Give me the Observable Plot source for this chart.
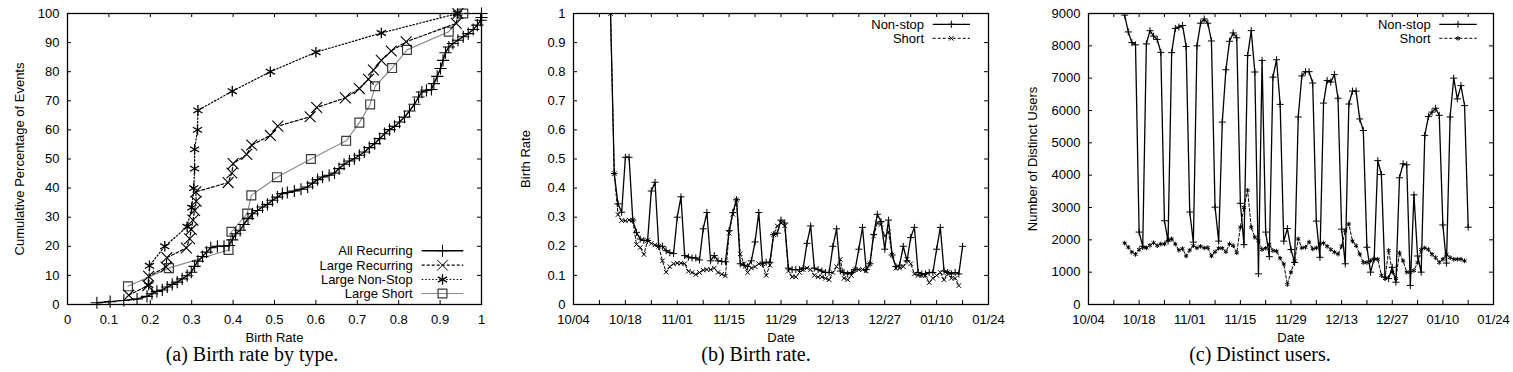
<!DOCTYPE html>
<html>
<head>
<meta charset="utf-8">
<script src="https://cdn.jsdelivr.net/npm/d3@7"></script>
<script src="https://cdn.jsdelivr.net/npm/@observablehq/plot@0.6"></script>
<style>
  html, body { margin: 0; padding: 0; background: #fff; }
  #wrap { position: relative; width: 1513px; height: 372px; overflow: hidden; background: #fff; }
  .panel { position: absolute; top: 0; }
  .caption { position: absolute; top: 345.5px; width: 504px; text-align: center;
    font-family: "Liberation Serif", "Times New Roman", serif; font-size: 20px; line-height: 16px; color: #000; }
  .legend { position: absolute; top: 0; left: 0; pointer-events: none; }
</style>
</head>
<body>
<div id="wrap"></div>
<script>
// ---------------- Panel (a): CDF of birth rate by type ----------------
const allRecurring = [
  [0.071,0.6],[0.103,1.0],[0.136,1.4],[0.168,1.9],[0.192,2.8],[0.204,3.7],[0.216,4.5],[0.229,5.0],
  [0.241,6.0],[0.253,6.9],[0.265,7.7],[0.277,8.8],[0.289,9.9],[0.299,11.1],[0.307,13.1],[0.315,14.9],
  [0.326,16.5],[0.336,18.0],[0.346,19.5],[0.362,20.0],[0.378,20.0],[0.39,20.3],[0.398,22.2],[0.406,24.3],
  [0.417,25.5],[0.426,27.5],[0.436,29.5],[0.447,31.2],[0.459,32.3],[0.471,33.5],[0.483,34.4],[0.495,35.8],
  [0.507,36.9],[0.519,38.1],[0.531,38.5],[0.548,39.0],[0.564,39.6],[0.58,40.4],[0.592,41.7],[0.604,42.9],
  [0.616,43.8],[0.632,44.4],[0.645,45.2],[0.656,46.7],[0.668,48.2],[0.681,49.3],[0.693,50.1],[0.705,51.3],
  [0.717,52.4],[0.729,53.9],[0.742,55.3],[0.754,57.0],[0.766,58.7],[0.778,60.1],[0.79,61.2],[0.802,62.7],
  [0.814,64.4],[0.826,66.5],[0.838,68.8],[0.848,71.3],[0.856,73.0],[0.867,73.6],[0.879,73.9],[0.885,75.9],
  [0.893,78.4],[0.901,81.1],[0.907,83.9],[0.913,86.5],[0.921,88.5],[0.931,89.7],[0.943,90.8],[0.956,92.0],
  [0.968,93.1],[0.98,94.5],[0.99,96.0],[0.998,97.7],[1.0,98.6],[1.0,100]
];
const largeRecurring = [
  [0.148,3.2],[0.194,6.5],[0.196,9.7],[0.238,12.9],[0.240,16.1],[0.287,19.4],[0.295,22.6],[0.299,25.8],
  [0.303,29.0],[0.307,32.3],[0.311,35.5],[0.310,38.7],[0.388,41.9],[0.397,45.2],[0.40,48.4],[0.433,51.6],
  [0.445,54.8],[0.49,58.1],[0.508,61.3],[0.586,64.5],[0.602,67.7],[0.671,71.0],[0.705,74.2],[0.727,77.4],
  [0.739,80.6],[0.758,83.9],[0.782,87.1],[0.818,90.3],[0.939,96.6],[0.943,100]
];
const largeNonStop = [
  [0.196,6.7],[0.198,13.3],[0.235,20.0],[0.289,26.7],[0.30,33.3],[0.305,40.0],[0.307,46.7],[0.307,53.3],
  [0.314,60.0],[0.315,66.7],[0.398,73.3],[0.49,80.0],[0.60,86.7],[0.758,93.3],[0.942,100]
];
const largeShort = [
  [0.146,6.25],[0.245,12.5],[0.389,18.75],[0.396,25.0],[0.434,31.25],[0.444,37.5],[0.506,43.75],[0.588,50.0],
  [0.673,56.25],[0.705,62.5],[0.731,68.75],[0.743,75.0],[0.784,81.25],[0.82,87.5],[0.921,93.75],[0.956,100]
];
const birthRateTicks = [0,0.1,0.2,0.3,0.4,0.5,0.6,0.7,0.8,0.9,1];
const birthRateTickLabels = ["0","0.1","0.2","0.3","0.4","0.5","0.6","0.7","0.8","0.9","1"];
const percentTicks = [0,10,20,30,40,50,60,70,80,90,100];
const percentTickLabels = ["0","10","20","30","40","50","60","70","80","90","100"];
const legendA = ["All Recurring","Large Recurring","Large Non-Stop","Large Short"];

// ---------------- Panels (b), (c): daily series starting 10/14 ----------------
const seriesStart = "2008-10-14";
const nonstopBirth = [
  1.00,0.45,0.346,0.317,0.506,0.506,0.29,0.248,0.225,0.22,0.22,0.39,0.42,0.20,0.20,0.185,0.178,0.175,
  0.30,0.37,0.168,0.163,0.16,0.16,0.153,0.26,0.316,0.15,0.168,0.15,0.148,0.147,0.254,0.316,0.36,0.14,
  0.135,0.13,0.15,0.215,0.316,0.14,0.145,0.145,0.24,0.245,0.29,0.28,0.125,0.12,0.12,0.12,0.125,0.21,
  0.27,0.125,0.12,0.115,0.11,0.11,0.20,0.26,0.115,0.11,0.105,0.11,0.12,0.19,0.265,0.12,0.14,0.24,
  0.31,0.285,0.19,0.29,0.17,0.13,0.135,0.20,0.15,0.23,0.265,0.11,0.105,0.105,0.11,0.11,0.19,0.265,
  0.115,0.11,0.105,0.11,0.105,0.20
];
const shortBirth = [
  1.00,0.45,0.309,0.288,0.288,0.29,0.29,0.206,0.196,0.172,0.22,0.21,0.205,0.20,0.15,0.111,0.13,0.14,
  0.142,0.142,0.14,0.114,0.11,0.103,0.11,0.118,0.12,0.12,0.125,0.11,0.104,0.098,0.245,0.31,0.36,0.174,
  0.14,0.11,0.125,0.13,0.14,0.14,0.10,0.135,0.24,0.27,0.28,0.27,0.115,0.095,0.095,0.11,0.12,0.125,
  0.12,0.10,0.095,0.095,0.09,0.085,0.11,0.13,0.155,0.09,0.085,0.10,0.12,0.12,0.12,0.115,0.14,0.235,
  0.28,0.275,0.235,0.25,0.17,0.125,0.125,0.13,0.155,0.14,0.105,0.10,0.10,0.10,0.075,0.09,0.10,0.11,
  0.085,0.11,0.09,0.09,0.065
];
const nonstopUsers = [
  8950,8430,8100,8030,2240,1800,8060,8470,8300,8200,7800,2590,1960,7790,8540,8580,8630,7980,
  2860,1930,8000,8700,8830,8700,8150,3010,1960,5640,7260,8140,8400,8250,3130,1850,7700,8470,
  7190,950,7550,2240,1480,7030,7570,6190,1960,2350,1700,1300,5800,7070,7200,7200,6850,2580,
  1460,6230,6930,6880,7110,6380,2330,1260,6200,6600,6600,5740,5380,1770,1000,1410,4450,4020,
  850,800,1150,690,3920,4350,4320,590,3390,1500,1000,5230,5810,5950,6070,5850,2460,1280,
  5800,7000,6360,6770,6150,2390
];
const shortUsers = [
  1900,1770,1620,1550,1700,1770,1750,1830,1910,1820,1870,1870,2000,2030,1870,1680,1730,1500,
  1680,1820,1750,1800,1750,1760,1500,1630,1740,1740,1630,1870,1820,1600,2390,3000,3530,2390,
  2080,1970,1700,1740,1860,1670,1650,1430,1250,620,1000,1350,2030,1750,1770,1930,1720,1750,
  1870,1900,1800,1700,1620,1560,1800,2280,2490,1960,1820,1560,1300,1300,1350,1410,1400,900,
  800,1670,1000,800,1600,1350,1000,1000,1050,1300,1700,1750,1700,1550,1450,1300,1400,1550,
  1450,1400,1400,1400,1350
];
const dateDomain = ["2008-10-04","2009-01-24"];
const dateTicks = ["2008-10-04","2008-10-18","2008-11-01","2008-11-15","2008-11-29","2008-12-13","2008-12-27","2009-01-10","2009-01-24"];
const dateTickLabels = ["10/04","10/18","11/01","11/15","11/29","12/13","12/27","01/10","01/24"];
const rateTicks = [0,0.1,0.2,0.3,0.4,0.5,0.6,0.7,0.8,0.9,1];
const rateTickLabels = ["0","0.1","0.2","0.3","0.4","0.5","0.6","0.7","0.8","0.9","1"];
const userTicks = [0,1000,2000,3000,4000,5000,6000,7000,8000,9000];
const userTickLabels = ["0","1000","2000","3000","4000","5000","6000","7000","8000","9000"];
const legendBC = ["Non-stop","Short"];
const captions = ["(a) Birth rate by type.","(b) Birth rate.","(c) Distinct users."];

// ---------------- helpers ----------------
const FONT = "'Liberation Sans', Arial, Helvetica, sans-serif";
const H = 345, MT = 13, MB = 41;
const parse = d3.utcParse("%Y-%m-%d");
const start = parse(seriesStart);
const toRows = arr => arr.map((v, i) => ({date: d3.utcDay.offset(start, i), v}));

function frameMarks(xTickMarks, yTickMarks, pw, ph, xLab, xLabFmt, yLab, yLabFmt, xTitle, yTitle, yTitleDx) {
  const k = 4;
  return [
    Plot.ruleX(xTickMarks, {x: d => d, insetTop: ph - k, stroke: "#000", strokeWidth: 1}),
    Plot.ruleX(xTickMarks, {x: d => d, insetBottom: ph - k, stroke: "#000", strokeWidth: 1}),
    Plot.ruleY(yTickMarks, {y: d => d, insetRight: pw - k, stroke: "#000", strokeWidth: 1}),
    Plot.ruleY(yTickMarks, {y: d => d, insetLeft: pw - k, stroke: "#000", strokeWidth: 1}),
    Plot.frame({stroke: "#000", strokeWidth: 1.3}),
    Plot.axisX(xLab, {tickSize: 0, tickPadding: 10, tickFormat: xLabFmt, label: null, fill: "#000"}),
    Plot.axisY(yLab, {tickSize: 0, tickPadding: 8, tickFormat: yLabFmt, label: null, fill: "#000"}),
    Plot.text([xTitle], {text: d => d, frameAnchor: "bottom", textAnchor: "middle", lineAnchor: "middle", dy: 33, fill: "#000"}),
    Plot.text([yTitle], {text: d => d, frameAnchor: "left", textAnchor: "middle", lineAnchor: "middle", dx: yTitleDx, rotate: -90, fill: "#000"})
  ];
}

function addPanel(svg, left) {
  const div = document.createElement("div");
  div.className = "panel";
  div.style.left = left + "px";
  div.appendChild(svg);
  document.getElementById("wrap").appendChild(div);
}

function addCaption(text, left) {
  const c = document.createElement("div");
  c.className = "caption";
  c.style.left = left + "px";
  c.textContent = text;
  document.getElementById("wrap").appendChild(c);
}

// legend drawn as an overlay (not data)
function addLegend(items, textRight, lineX0, lineX1, yRows) {
  const svg = d3.select("#wrap").append("svg").attr("class", "legend")
    .attr("width", 1513).attr("height", 320);
  items.forEach((it, i) => {
    const y = yRows[i];
    svg.append("text").attr("x", textRight).attr("y", y).attr("dy", "0.34em")
      .attr("text-anchor", "end").attr("font-family", FONT).attr("font-size", 13).attr("fill", "#000")
      .text(it.label);
    svg.append("line").attr("x1", lineX0).attr("x2", lineX1).attr("y1", y).attr("y2", y)
      .attr("stroke", it.stroke).attr("stroke-width", it.sw).attr("stroke-dasharray", it.dash || null);
    svg.append("path").attr("transform", `translate(${(lineX0 + lineX1) / 2},${y})`)
      .attr("d", d3.symbol(it.symbol, it.r * it.r * Math.PI)())
      .attr("fill", "none").attr("stroke", it.mstroke || it.stroke).attr("stroke-width", it.msw || 1);
  });
}

// ---------------- Panel (a) ----------------
{
  const width = 504, ml = 67, mr = 23;
  const pw = width - ml - mr, ph = H - MT - MB;
  const fx = d => d[0], fy = d => d[1];
  const svg = Plot.plot({
    width, height: H, marginLeft: ml, marginRight: mr, marginTop: MT, marginBottom: MB,
    style: {fontFamily: FONT, fontSize: "13px", background: "#fff", color: "#000"},
    x: {domain: [0, 1]},
    y: {domain: [0, 100]},
    marks: [
      ...frameMarks(birthRateTicks, percentTicks, pw, ph,
        birthRateTicks, (d, i) => birthRateTickLabels[i],
        percentTicks, (d, i) => percentTickLabels[i],
        "Birth Rate", "Cumulative Percentage of Events", -48),
      Plot.line(largeShort, {x: fx, y: fy, stroke: "#8a8a8a", strokeWidth: 1.1}),
      Plot.dot(largeShort, {x: fx, y: fy, symbol: "square", r: 5, stroke: "#3a3a3a", strokeWidth: 1.2, fill: "none"}),
      Plot.line(largeNonStop, {x: fx, y: fy, stroke: "#000", strokeWidth: 1.2, strokeDasharray: "1.5,2"}),
      Plot.dot(largeNonStop, {x: fx, y: fy, symbol: "asterisk", r: 5, stroke: "#000", strokeWidth: 1.3}),
      Plot.line(largeRecurring, {x: fx, y: fy, stroke: "#000", strokeWidth: 1.2, strokeDasharray: "3,2"}),
      Plot.dot(largeRecurring, {x: fx, y: fy, symbol: "times", r: 5, stroke: "#000", strokeWidth: 1.1}),
      Plot.line(allRecurring, {x: fx, y: fy, stroke: "#000", strokeWidth: 1.4}),
      Plot.dot(allRecurring, {x: fx, y: fy, symbol: "plus", r: 4, stroke: "#000", strokeWidth: 1.1})
    ]
  });
  addPanel(svg, 0);
  addCaption(captions[0], 0);
  addLegend([
    {label: legendA[0], stroke: "#000", sw: 1.4, symbol: d3.symbolPlus, r: 4},
    {label: legendA[1], stroke: "#000", sw: 1.2, dash: "3,2", symbol: d3.symbolTimes, r: 5},
    {label: legendA[2], stroke: "#000", sw: 1.2, dash: "1.5,2", symbol: d3.symbolAsterisk, r: 5, msw: 1.3},
    {label: legendA[3], stroke: "#8a8a8a", sw: 1.1, symbol: d3.symbolSquare, r: 5, mstroke: "#3a3a3a", msw: 1.2}
  ], 412.7, 421.7, 463.3, [250.7, 265.2, 279.5, 293.5]);
}

// ---------------- Panels (b), (c) ----------------
const xDomain = dateDomain.map(parse);
const tickDates = dateTicks.map(parse);
const weekTicks = d3.utcSaturday.range(xDomain[0], d3.utcDay.offset(xDomain[1], 1));

function timePanel({left, width, ml, mr, yDomain, yTicks, yTickLabels, yTitle, yTitleDx, nonstop, short, shortSymbol, captionIdx, legendTextRight, legendLine}) {
  const pw = width - ml - mr, ph = H - MT - MB;
  const ns = toRows(nonstop), sh = toRows(short);
  const svg = Plot.plot({
    width, height: H, marginLeft: ml, marginRight: mr, marginTop: MT, marginBottom: MB,
    style: {fontFamily: FONT, fontSize: "13px", background: "#fff", color: "#000"},
    x: {type: "utc", domain: xDomain},
    y: {domain: yDomain},
    marks: [
      ...frameMarks(weekTicks, yTicks, pw, ph,
        tickDates, (d, i) => dateTickLabels[i],
        yTicks, (d, i) => yTickLabels[i],
        "Date", yTitle, yTitleDx),
      Plot.line(sh, {x: "date", y: "v", stroke: "#000", strokeWidth: 1, strokeDasharray: "3,2", clip: true}),
      Plot.dot(sh, {x: "date", y: "v", symbol: shortSymbol, r: 2.2, stroke: "#000", strokeWidth: 1, clip: true}),
      Plot.line(ns, {x: "date", y: "v", stroke: "#000", strokeWidth: 1.3, clip: true}),
      Plot.dot(ns, {x: "date", y: "v", symbol: "plus", r: 2.4, stroke: "#000", strokeWidth: 1, clip: true})
    ]
  });
  addPanel(svg, left);
  addCaption(captions[captionIdx], left);
  addLegend([
    {label: legendBC[0], stroke: "#000", sw: 1.3, symbol: d3.symbolPlus, r: 2.4},
    {label: legendBC[1], stroke: "#000", sw: 1, dash: "3,2",
     symbol: shortSymbol === "times" ? d3.symbolTimes : d3.symbolAsterisk, r: 2.2}
  ], legendTextRight, legendLine[0], legendLine[1], [24.3, 38.3]);
}

timePanel({
  left: 504, width: 504, ml: 69, mr: 20,
  yDomain: [0, 1], yTicks: rateTicks, yTickLabels: rateTickLabels,
  yTitle: "Birth Rate", yTitleDx: -48,
  nonstop: nonstopBirth, short: shortBirth, shortSymbol: "times", captionIdx: 1,
  legendTextRight: 924, legendLine: [932.7, 970]
});

timePanel({
  left: 1008, width: 505, ml: 80, mr: 20,
  yDomain: [0, 9000], yTicks: userTicks, yTickLabels: userTickLabels,
  yTitle: "Number of Distinct Users", yTitleDx: -56,
  nonstop: nonstopUsers, short: shortUsers, shortSymbol: "asterisk", captionIdx: 2,
  legendTextRight: 1430.7, legendLine: [1439.3, 1476.7]
});
</script>
</body>
</html>
